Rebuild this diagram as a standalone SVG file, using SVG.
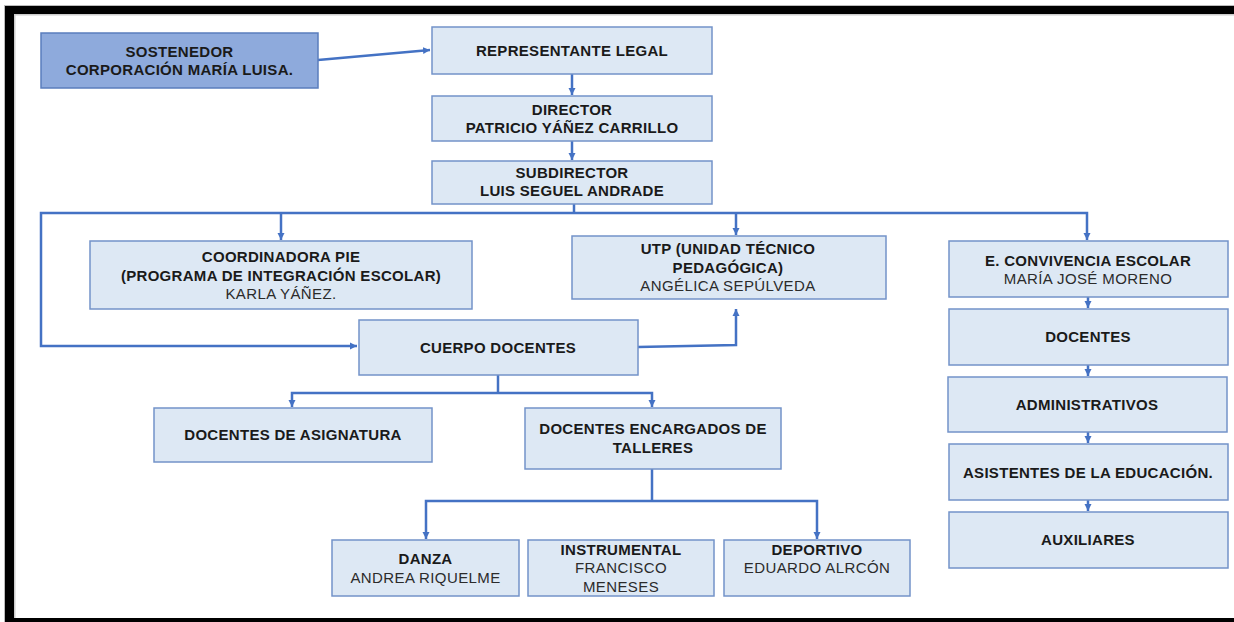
<svg xmlns="http://www.w3.org/2000/svg" width="1234" height="622" viewBox="0 0 1234 622">
<style>
.box{fill:#dde8f4;stroke:#7393c9;stroke-width:1.5}
.top{fill:#8eaadc;stroke:#5a7dbd;stroke-width:1.5}
.b{font-family:"Liberation Sans",Arial,sans-serif;font-size:15px;font-weight:bold;letter-spacing:0.3px;fill:#1a1a1a;text-anchor:middle}
.r{font-family:"Liberation Sans",Arial,sans-serif;font-size:15px;letter-spacing:0.4px;fill:#2b2b2b;text-anchor:middle}
.c{fill:none;stroke:#4472c4;stroke-width:2.5}
</style>
<defs>
<marker id="ah" markerUnits="userSpaceOnUse" markerWidth="8" markerHeight="8" refX="7" refY="4" orient="auto">
<path d="M0,0.5 L7,4 L0,7.5 z" fill="#4472c4"/>
</marker>
</defs>
<rect x="0" y="0" width="1234" height="622" fill="#ffffff"/>
<g id="frame">
<rect x="4" y="5" width="1234" height="1" fill="#bbbbbb"/>
<rect x="4" y="5" width="1" height="622" fill="#bbbbbb"/>
<rect x="5" y="6" width="1229" height="8" fill="#000000"/>
<rect x="5" y="6" width="9" height="616" fill="#000000"/>
<rect x="5" y="618" width="1229" height="4" fill="#000000"/>
<rect x="14" y="14" width="1220" height="1.5" fill="#cccccc"/>
<rect x="14" y="14" width="1.5" height="604" fill="#cccccc"/>
</g>
<g id="connectors">
<path class="c" d="M318,60 L430,50" marker-end="url(#ah)"/>
<path class="c" d="M572,74 V95" marker-end="url(#ah)"/>
<path class="c" d="M572,141 V160" marker-end="url(#ah)"/>
<path class="c" d="M574,204 V213"/>
<path class="c" d="M574,213 H41 V346 H357" marker-end="url(#ah)"/>
<path class="c" d="M574,213 H1087 V240" marker-end="url(#ah)"/>
<path class="c" d="M281,213 V240" marker-end="url(#ah)"/>
<path class="c" d="M736,213 V235" marker-end="url(#ah)"/>
<path class="c" d="M638,347 L736,345 V309" marker-end="url(#ah)"/>
<path class="c" d="M498,375 V393"/>
<path class="c" d="M498,393 H292 V407" marker-end="url(#ah)"/>
<path class="c" d="M498,393 H652 V407" marker-end="url(#ah)"/>
<path class="c" d="M652,469 V501"/>
<path class="c" d="M652,501 H426 V539" marker-end="url(#ah)"/>
<path class="c" d="M652,501 H817 V539" marker-end="url(#ah)"/>
<path class="c" d="M1088,297 V308" marker-end="url(#ah)"/>
<path class="c" d="M1088,365 V376" marker-end="url(#ah)"/>
<path class="c" d="M1088,432 V443" marker-end="url(#ah)"/>
<path class="c" d="M1088,500 V511" marker-end="url(#ah)"/>
</g>
<g id="sostenedor">
<rect class="top" x="41" y="33" width="277" height="55"/>
<text class="b" x="179.5" y="57">SOSTENEDOR</text>
<text class="b" x="179.5" y="75">CORPORACIÓN MARÍA LUISA.</text>
</g>
<g id="representante">
<rect class="box" x="432" y="27" width="280" height="47"/>
<text class="b" x="572" y="56">REPRESENTANTE LEGAL</text>
</g>
<g id="director">
<rect class="box" x="432" y="96" width="280" height="45"/>
<text class="b" x="572" y="115">DIRECTOR</text>
<text class="b" x="572" y="133">PATRICIO YÁÑEZ CARRILLO</text>
</g>
<g id="subdirector">
<rect class="box" x="432" y="161" width="280" height="43"/>
<text class="b" x="572" y="178">SUBDIRECTOR</text>
<text class="b" x="572" y="196">LUIS SEGUEL ANDRADE</text>
</g>
<g id="coordinadora">
<rect class="box" x="90" y="241" width="382" height="68"/>
<text class="b" x="281" y="262">COORDINADORA PIE</text>
<text class="b" x="281" y="281">(PROGRAMA DE INTEGRACIÓN ESCOLAR)</text>
<text class="r" x="281" y="299">KARLA YÁÑEZ.</text>
</g>
<g id="utp">
<rect class="box" x="572" y="236" width="314" height="63"/>
<text class="b" x="728" y="254">UTP (UNIDAD TÉCNICO</text>
<text class="b" x="728" y="273">PEDAGÓGICA)</text>
<text class="r" x="728" y="291">ANGÉLICA SEPÚLVEDA</text>
</g>
<g id="convivencia">
<rect class="box" x="949" y="241" width="279" height="56"/>
<text class="b" x="1088" y="266">E. CONVIVENCIA ESCOLAR</text>
<text class="r" x="1088" y="284">MARÍA JOSÉ MORENO</text>
</g>
<g id="docentes">
<rect class="box" x="949" y="309" width="279" height="56"/>
<text class="b" x="1088" y="342">DOCENTES</text>
</g>
<g id="administrativos">
<rect class="box" x="948" y="377" width="279" height="55"/>
<text class="b" x="1087" y="410">ADMINISTRATIVOS</text>
</g>
<g id="asistentes">
<rect class="box" x="949" y="444" width="279" height="56"/>
<text class="b" x="1088" y="478">ASISTENTES DE LA EDUCACIÓN.</text>
</g>
<g id="auxiliares">
<rect class="box" x="949" y="512" width="279" height="56"/>
<text class="b" x="1088" y="545">AUXILIARES</text>
</g>
<g id="cuerpo">
<rect class="box" x="359" y="320" width="279" height="55"/>
<text class="b" x="498" y="353">CUERPO DOCENTES</text>
</g>
<g id="asignatura">
<rect class="box" x="154" y="408" width="278" height="54"/>
<text class="b" x="293" y="440">DOCENTES DE ASIGNATURA</text>
</g>
<g id="encargados">
<rect class="box" x="525" y="408" width="256" height="61"/>
<text class="b" x="653" y="434">DOCENTES ENCARGADOS DE</text>
<text class="b" x="653" y="453">TALLERES</text>
</g>
<g id="danza">
<rect class="box" x="332" y="540" width="187" height="56"/>
<text class="b" x="425.5" y="564">DANZA</text>
<text class="r" x="425.5" y="583">ANDREA RIQUELME</text>
</g>
<g id="instrumental">
<rect class="box" x="528" y="540" width="186" height="56"/>
<text class="b" x="621" y="555">INSTRUMENTAL</text>
<text class="r" x="621" y="573">FRANCISCO</text>
<text class="r" x="621" y="592">MENESES</text>
</g>
<g id="deportivo">
<rect class="box" x="724" y="540" width="186" height="56"/>
<text class="b" x="817" y="555">DEPORTIVO</text>
<text class="r" x="817" y="573">EDUARDO ALRCÓN</text>
</g>
</svg>
